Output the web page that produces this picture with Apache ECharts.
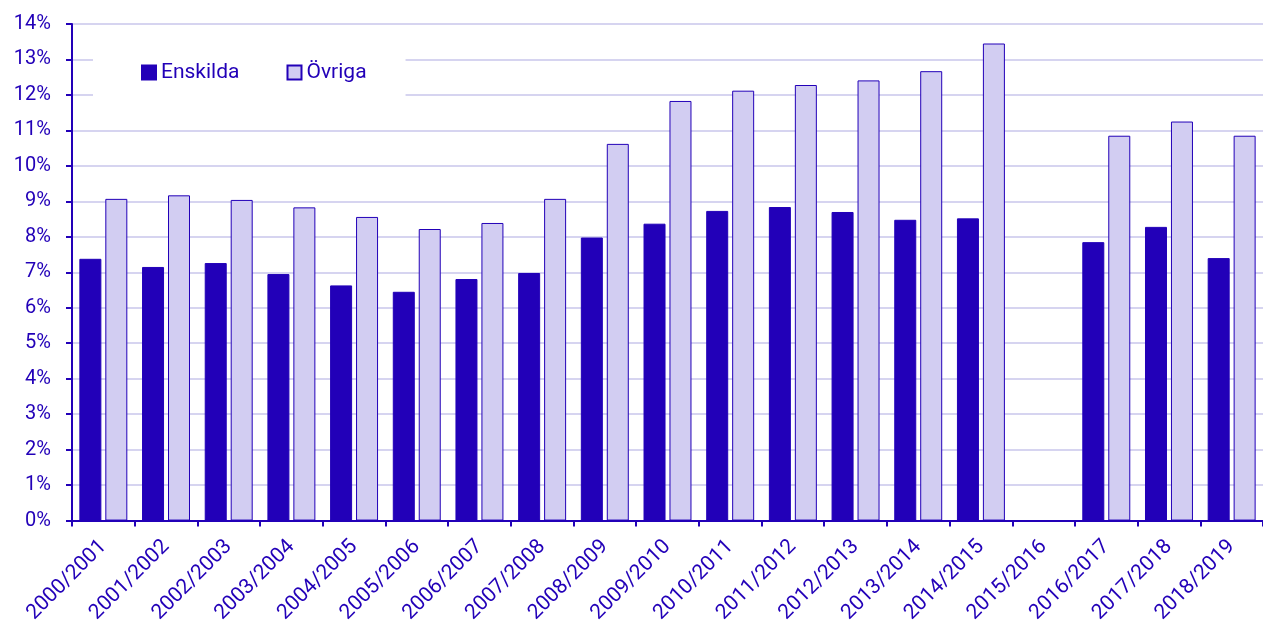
<!DOCTYPE html>
<html>
<head>
<meta charset="utf-8">
<script src="https://cdn.jsdelivr.net/npm/echarts@6/dist/echarts.min.js"></script>
<style>
html,body{margin:0;padding:0;background:#fff;}
#chart{width:1263px;height:626px;}
</style>
</head>
<body>
<div id="chart"></div>
<script>
const categories = ['2000/2001','2001/2002','2002/2003','2003/2004','2004/2005','2005/2006','2006/2007','2007/2008','2008/2009','2009/2010','2010/2011','2011/2012','2012/2013','2013/2014','2014/2015','2015/2016','2016/2017','2017/2018','2018/2019'];
const enskilda = [7.38, 7.15, 7.26, 6.95, 6.63, 6.45, 6.81, 6.98, 7.98, 8.37, 8.73, 8.84, 8.70, 8.48, 8.52, null, 7.85, 8.28, 7.40];
const ovriga = [9.07, 9.17, 9.04, 8.83, 8.56, 8.22, 8.39, 9.07, 10.62, 11.83, 12.12, 12.28, 12.41, 12.67, 13.45, null, 10.85, 11.25, 10.85];
const seriesNames = ['Enskilda', 'Övriga'];

const dark = '#2200b8';
const light = '#d2cdf2';
const font = 'Roboto';

const chart = echarts.init(document.getElementById('chart'));
chart.setOption({
  animation: false,
  backgroundColor: '#fff',
  textStyle: { fontFamily: font, color: dark },
  grid: { left: 72, top: 24, bottom: 105, right: -8, containLabel: false },
  legend: {
    left: 93, top: 42,
    padding: [20, 39, 20, 48],
    backgroundColor: '#fff',
    icon: 'rect',
    itemWidth: 14, itemHeight: 14, itemGap: 47,
    textStyle: { fontFamily: font, fontSize: 21, color: dark },
    data: seriesNames
  },
  xAxis: {
    type: 'category',
    data: categories,
    axisLine: { lineStyle: { color: dark, width: 2 } },
    axisTick: { show: true, length: 6, lineStyle: { color: dark, width: 2 } },
    axisLabel: { rotate: 45, fontSize: 21, color: dark, fontFamily: font, margin: 23, interval: 0 },
    splitLine: { show: false }
  },
  yAxis: {
    type: 'value',
    min: 0, max: 14, interval: 1,
    axisLine: { show: true, lineStyle: { color: dark, width: 2 } },
    axisTick: { show: true, length: 6, lineStyle: { color: dark, width: 2 } },
    axisLabel: { formatter: '{value}%', fontSize: 20, color: dark, fontFamily: font, margin: 21 },
    splitLine: { show: true, lineStyle: { color: '#d6d4f0', width: 2 } }
  },
  series: [
    {
      name: seriesNames[0], type: 'bar', data: enskilda,
      barWidth: 22, barGap: '18%',
      itemStyle: { color: dark, borderColor: dark, borderWidth: 1 }
    },
    {
      name: seriesNames[1], type: 'bar', data: ovriga,
      barWidth: 22,
      itemStyle: { color: light, borderColor: dark, borderWidth: 1 }
    }
  ]
});
</script>
</body>
</html>
